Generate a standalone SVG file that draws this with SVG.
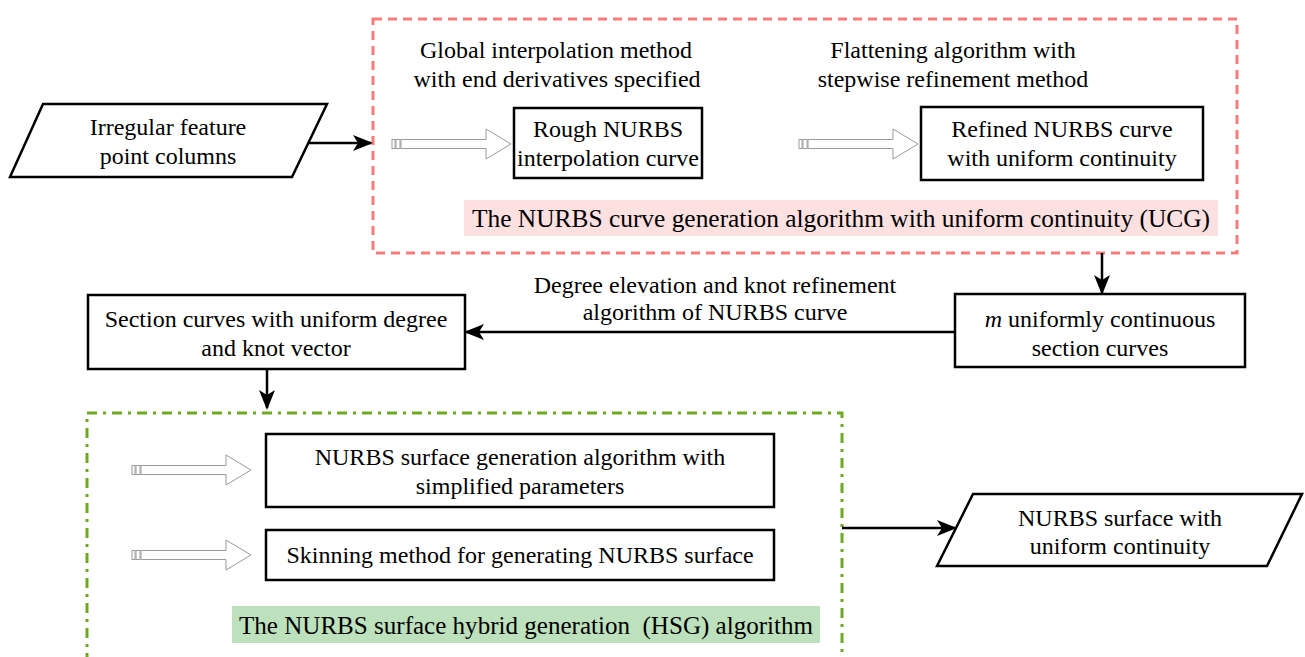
<svg xmlns="http://www.w3.org/2000/svg" width="1305" height="657" viewBox="0 0 1305 657">
  <defs>
    <style>
      .txt { font-family: "Liberation Serif", "Times New Roman", serif; font-size: 24px; fill: #000; text-anchor: middle; }
      .lbl { font-family: "Liberation Serif", "Times New Roman", serif; font-size: 25px; fill: #000; text-anchor: middle; white-space: pre; }
      .box { fill: #fff; stroke: #000; stroke-width: 2.5; }
      .conn { fill: none; stroke: #000; stroke-width: 2.5; }
      .hollow { fill: #fff; stroke: #9a9a9a; stroke-width: 1; }
      .ucg { fill: none; stroke: #f87a7a; stroke-width: 3; stroke-dasharray: 9 6; }
      .hsg { fill: none; stroke: #6fa823; stroke-width: 3; stroke-dasharray: 10 6 3 6; }
    </style>
    <marker id="arrow" viewBox="0 0 20 16" refX="18" refY="8" markerWidth="20" markerHeight="16" markerUnits="userSpaceOnUse" orient="auto">
      <path d="M0,0 L20,8 L0,16 L5,8 Z" fill="#000"/>
    </marker>
    <!-- hollow block arrow with two striped bars at the tail -->
    <g id="blockArrow">
      <rect class="hollow" x="0" y="-4.5" width="3" height="9"/>
      <rect class="hollow" x="4" y="-4.5" width="4" height="9"/>
      <path class="hollow" d="M9,-4.5 H94 V-15 L119,0 L94,15 V4.5 H9 Z"/>
    </g>
  </defs>

  <!-- group frames -->
  <g id="ucg-frame">
    <rect class="ucg" x="373" y="19" width="864" height="234"/>
    <rect x="464" y="200" width="754" height="36" fill="#fde1e1"/>
    <text class="lbl" x="841" y="227" textLength="738" lengthAdjust="spacingAndGlyphs">The NURBS curve generation algorithm with uniform continuity (UCG)</text>
  </g>
  <g id="hsg-frame">
    <rect class="hsg" x="87" y="413" width="755" height="270"/>
    <rect x="232" y="606" width="588" height="37" fill="#bde0bd"/>
    <text class="lbl" x="526" y="634" textLength="574" lengthAdjust="spacingAndGlyphs">The NURBS surface hybrid generation  (HSG) algorithm</text>
  </g>

  <!-- method captions -->
  <g id="caption-global">
    <text class="txt" x="556" y="58">Global interpolation method</text>
    <text class="txt" x="557" y="87">with end derivatives specified</text>
  </g>
  <g id="caption-flatten">
    <text class="txt" x="953" y="58">Flattening algorithm with</text>
    <text class="txt" x="953" y="87">stepwise refinement method</text>
  </g>
  <g id="caption-degree">
    <text class="txt" x="715" y="293">Degree elevation and knot refinement</text>
    <text class="txt" x="715" y="320">algorithm of NURBS curve</text>
  </g>

  <!-- nodes -->
  <g id="node-irregular">
    <path class="box" d="M43,104 L327,104 L292,177 L10,177 Z"/>
    <text class="txt" x="168" y="135">Irregular feature</text>
    <text class="txt" x="168" y="164">point columns</text>
  </g>
  <g id="node-rough">
    <rect class="box" x="514" y="108" width="188" height="70"/>
    <text class="txt" x="608" y="137">Rough NURBS</text>
    <text class="txt" x="608" y="166">interpolation curve</text>
  </g>
  <g id="node-refined">
    <rect class="box" x="921" y="107" width="282" height="73"/>
    <text class="txt" x="1062" y="137">Refined NURBS curve</text>
    <text class="txt" x="1062" y="166">with uniform continuity</text>
  </g>
  <g id="node-m-curves">
    <rect class="box" x="955" y="294" width="290" height="73"/>
    <text class="txt" x="1100" y="327"><tspan font-style="italic">m</tspan>  uniformly continuous</text>
    <text class="txt" x="1100" y="356">section curves</text>
  </g>
  <g id="node-section">
    <rect class="box" x="88" y="295" width="377" height="74"/>
    <text class="txt" x="276" y="327">Section curves with uniform degree</text>
    <text class="txt" x="276" y="356">and knot vector</text>
  </g>
  <g id="node-surface-gen">
    <rect class="box" x="266" y="434" width="508" height="73"/>
    <text class="txt" x="520" y="465">NURBS surface generation algorithm with</text>
    <text class="txt" x="520" y="494">simplified parameters</text>
  </g>
  <g id="node-skinning">
    <rect class="box" x="266" y="530" width="508" height="50"/>
    <text class="txt" x="520" y="563">Skinning method for generating NURBS surface</text>
  </g>
  <g id="node-surface-out">
    <path class="box" d="M973,494 L1302,494 L1267,566 L937,566 Z"/>
    <text class="txt" x="1120" y="526">NURBS surface with</text>
    <text class="txt" x="1120" y="554">uniform continuity</text>
  </g>

  <!-- connectors -->
  <g id="connectors">
    <line class="conn" x1="308" y1="143" x2="371" y2="143" marker-end="url(#arrow)"/>
    <line class="conn" x1="1102" y1="253" x2="1102" y2="293" marker-end="url(#arrow)"/>
    <line class="conn" x1="955" y1="332" x2="466" y2="332" marker-end="url(#arrow)"/>
    <line class="conn" x1="267" y1="369" x2="267" y2="408" marker-end="url(#arrow)"/>
    <line class="conn" x1="842" y1="528" x2="955" y2="528" marker-end="url(#arrow)"/>
    <use href="#blockArrow" x="392" y="144"/>
    <use href="#blockArrow" x="799" y="144"/>
    <use href="#blockArrow" x="132" y="470"/>
    <use href="#blockArrow" x="132" y="555"/>
  </g>
</svg>
